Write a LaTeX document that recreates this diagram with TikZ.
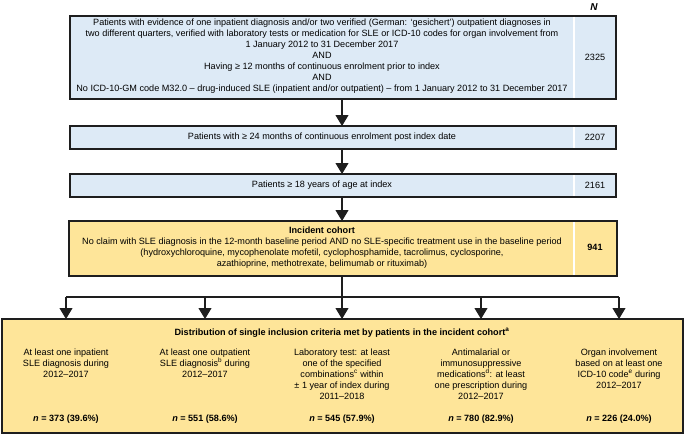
\documentclass[tikz,border=0pt]{standalone}
\usepackage{fontspec}
\setmainfont{Liberation Sans}
\usetikzlibrary{arrows.meta}
\definecolor{boxblue}{RGB}{221,234,246}
\definecolor{boxyellow}{RGB}{254,229,153}
\definecolor{frame}{RGB}{30,30,30}
\begin{document}
\begin{tikzpicture}[x=1pt,y=-1pt,
  frm/.style={draw=frame,line width=1.7pt,inner sep=0pt,outer sep=0pt},
  bluebox/.style={frm,fill=boxblue},
  yelbox/.style={frm,fill=boxyellow},
  txt/.style={font=\fontsize{9.1}{11}\selectfont,align=center,inner sep=0pt},
  num/.style={font=\fontsize{9.1}{11}\selectfont,inner sep=0pt},
  bnum/.style={font=\bfseries\fontsize{9.1}{11}\selectfont,inner sep=0pt},
  divider/.style={white,line width=1.5pt},
  conn/.style={draw=frame,line width=1.1pt},
  arr/.style={conn,-{Triangle[width=13pt,length=11pt]}}]
\useasboundingbox (0,0) rectangle (685,436);
% headers
\node[font=\bfseries\itshape\fontsize{10}{11}\selectfont,inner sep=0pt] (Nlab) at (594,7) {N};
% box 1
\node[bluebox,minimum width=546,minimum height=83] (b1) at (343,57.5) {};
\draw[divider] (574,17) -- (574,98);
\node[txt] (t1) at (322,56) {Patients with evidence of one inpatient diagnosis and/or two verified (German: ‘gesichert’) outpatient diagnoses in\\
two different quarters, verified with laboratory tests or medication for SLE or ICD-10 codes for organ involvement from\\
1 January 2012 to 31 December 2017\\
AND\\
Having ≥ 12 months of continuous enrolment prior to index\\
AND\\
No ICD-10-GM code M32.0 – drug-induced SLE (inpatient and/or outpatient) – from 1 January 2012 to 31 December 2017};
\node[num] (n1) at (595,57.5) {2325};
% box 2
\node[bluebox,minimum width=546,minimum height=23] (b2) at (343,137.5) {};
\draw[divider] (574,127) -- (574,148);
\node[txt] (t2) at (322,137.5) {Patients with ≥ 24 months of continuous enrolment post index date};
\node[num] (n2) at (595,137.5) {2207};
% box 3
\node[bluebox,minimum width=546,minimum height=23] (b3) at (343,185.5) {};
\draw[divider] (574,175) -- (574,196);
\node[txt] (t3) at (322,185.5) {Patients ≥ 18 years of age at index};
\node[num] (n3) at (595,185.5) {2161};
% box 4
\node[yelbox,minimum width=548,minimum height=55] (b4) at (343,248.5) {};
\draw[divider] (574,222) -- (574,275);
\node[txt] (t4) at (322,247.5) {\textbf{Incident cohort}\\
No claim with SLE diagnosis in the 12-month baseline period AND no SLE-specific treatment use in the baseline period\\
(hydroxychloroquine, mycophenolate mofetil, cyclophosphamide, tacrolimus, cyclosporine,\\
azathioprine, methotrexate, belimumab or rituximab)};
\node[bnum] (n4) at (595,247.5) {941};
% bottom box
\node[yelbox,minimum width=681,minimum height=114] (b5) at (342.5,376) {};
\node[txt,font=\bfseries\fontsize{9.1}{11}\selectfont] (t5) at (342,333) {Distribution of single inclusion criteria met by patients in the incident cohort\textsuperscript{a}};
\node[txt,anchor=north] (c1) at (66,349) {At least one inpatient\\SLE diagnosis during\\2012–2017};
\node[txt,anchor=north] (c2) at (205,349) {At least one outpatient\\SLE diagnosis\textsuperscript{b} during\\2012–2017};
\node[txt,anchor=north] (c3) at (342,349) {Laboratory test: at least\\one of the specified\\combinations\textsuperscript{c} within\\± 1 year of index during\\2011–2018};
\node[txt,anchor=north] (c4) at (481,349) {Antimalarial or\\immunosuppressive\\medications\textsuperscript{d}: at least\\one prescription during\\2012–2017};
\node[txt,anchor=north] (c5) at (619,349) {Organ involvement\\based on at least one\\ICD-10 code\textsuperscript{e} during\\2012–2017};
\node[bnum] (m1) at (66,419) {\textit{n} = 373 (39.6\%)};
\node[bnum] (m2) at (205,419) {\textit{n} = 551 (58.6\%)};
\node[bnum] (m3) at (342,419) {\textit{n} = 545 (57.9\%)};
\node[bnum] (m4) at (481,419) {\textit{n} = 780 (82.9\%)};
\node[bnum] (m5) at (619,419) {\textit{n} = 226 (24.0\%)};
% connectors
\draw[arr] (b1.south -| 342,0) -- (b2.north -| 342,0);
\draw[arr] (b2.south -| 342,0) -- (b3.north -| 342,0);
\draw[arr] (b3.south -| 342,0) -- (b4.north -| 342,0);
\coordinate (hl) at (66,297);
\coordinate (hr) at (619,297);
\draw[conn] (hl) -- (hr);
\draw[arr] (b4.south -| 342,0) -- (b5.north -| 342,0);
\draw[arr] (hl) -- (b5.north -| hl);
\draw[arr] (205,297) -- (b5.north -| 205,0);
\draw[arr] (481,297) -- (b5.north -| 481,0);
\draw[arr] (hr) -- (b5.north -| hr);
\end{tikzpicture}
\end{document}
